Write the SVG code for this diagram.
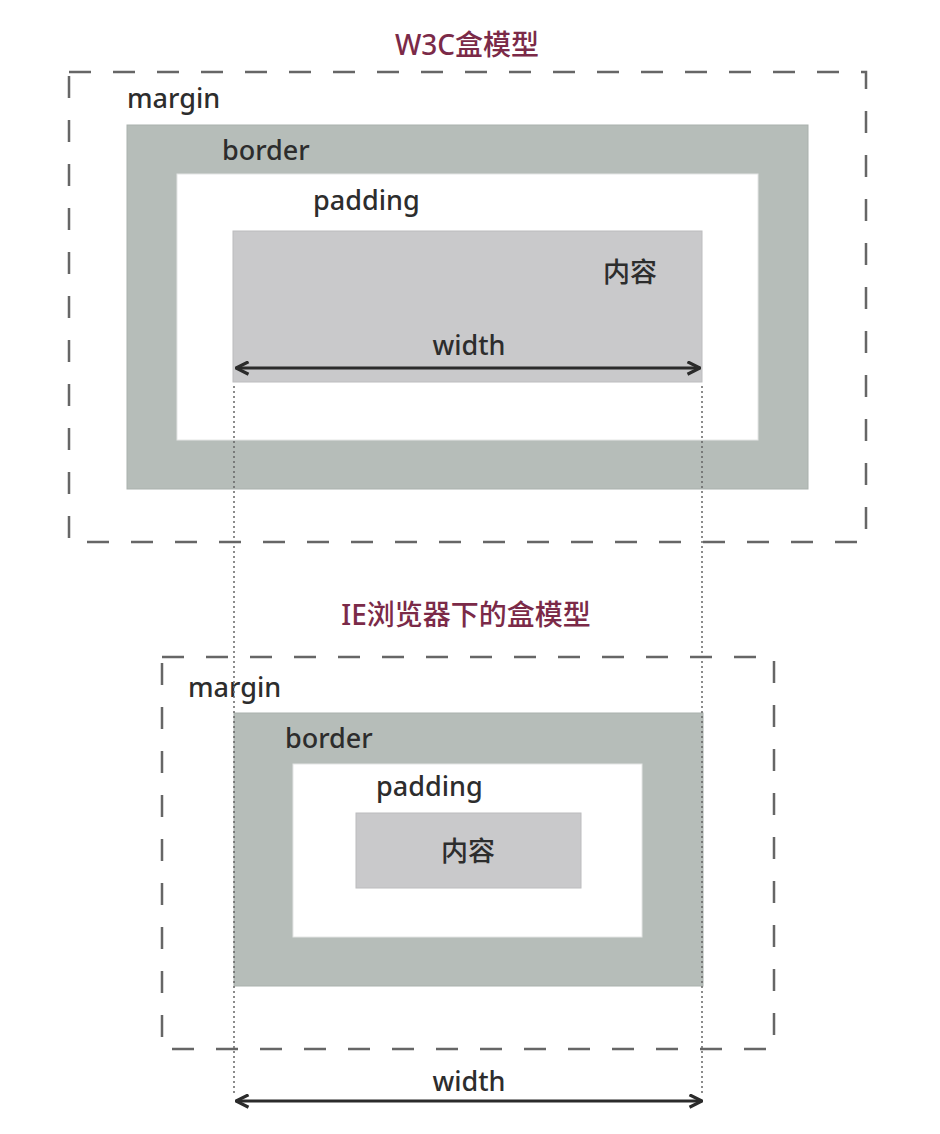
<svg xmlns="http://www.w3.org/2000/svg" width="940" height="1134" viewBox="0 0 940 1134">
<defs>
<style>
.lbl{font-family:"Noto Sans","Open Sans","Noto Sans CJK SC",sans-serif;font-size:27px;font-weight:500;fill:#2d2d2d;}
.ttl{font-family:"Noto Sans","Noto Sans CJK SC",sans-serif;font-size:28px;font-weight:500;fill:#7b2a48;text-anchor:middle;}
.margin{fill:none;stroke:#666;stroke-width:2.5;stroke-dasharray:22 22;}
.border{fill:#b6bdb9;stroke:#aab1ad;stroke-width:1;}
.padding{fill:#fff;stroke:#e4e6e5;stroke-width:1;}
.content{fill:#c9c9cb;stroke:#bcbcbe;stroke-width:1;}
.dot{stroke:#666;stroke-width:1.5;stroke-dasharray:2 3;fill:none;}
.arr{stroke:#2b2b2b;stroke-width:3;fill:none;marker-start:url(#ah);marker-end:url(#ah);}
</style>
<marker id="ah" viewBox="0 0 12 12" refX="11" refY="6" markerWidth="5" markerHeight="5" orient="auto-start-reverse" markerUnits="strokeWidth">
<path d="M1,1 L11,6 L1,11" fill="none" stroke="#2b2b2b" stroke-width="2.5"/>
</marker>
</defs>
<rect width="940" height="1134" fill="#fff"/>

<g id="w3c-box">
<text class="ttl" x="467" y="55">W3C盒模型</text>
<rect class="margin" x="69" y="72" width="797" height="470"/>
<text class="lbl" x="127" y="108">margin</text>
<rect class="border" x="127" y="125" width="681" height="364"/>
<text class="lbl" x="222" y="160">border</text>
<rect class="padding" x="177" y="174" width="581" height="266"/>
<text class="lbl" x="313" y="210">padding</text>
<rect class="content" x="233" y="231" width="469" height="151"/>
<text class="lbl" x="603" y="282">内容</text>
<text class="lbl" x="469" y="355" text-anchor="middle">width</text>
<line class="arr" x1="236" y1="368" x2="700" y2="368"/>
</g>

<g id="ie-box">
<text class="ttl" x="466" y="625">IE浏览器下的盒模型</text>
<rect class="margin" x="162" y="657" width="612" height="392"/>
<text class="lbl" x="188" y="697">margin</text>
<rect class="border" x="234" y="713" width="469" height="273"/>
<text class="lbl" x="285" y="748">border</text>
<rect class="padding" x="293" y="764" width="349" height="173"/>
<text class="lbl" x="376" y="796">padding</text>
<rect class="content" x="356" y="813" width="225" height="75"/>
<text class="lbl" x="468" y="861" text-anchor="middle">内容</text>
<text class="lbl" x="469" y="1091" text-anchor="middle">width</text>
<line class="arr" x1="236" y1="1101" x2="702" y2="1101"/>
</g>

<g id="connectors">
<line class="dot" x1="234" y1="386" x2="234" y2="1096"/>
<line class="dot" x1="702" y1="386" x2="702" y2="1096"/>
</g>
</svg>
